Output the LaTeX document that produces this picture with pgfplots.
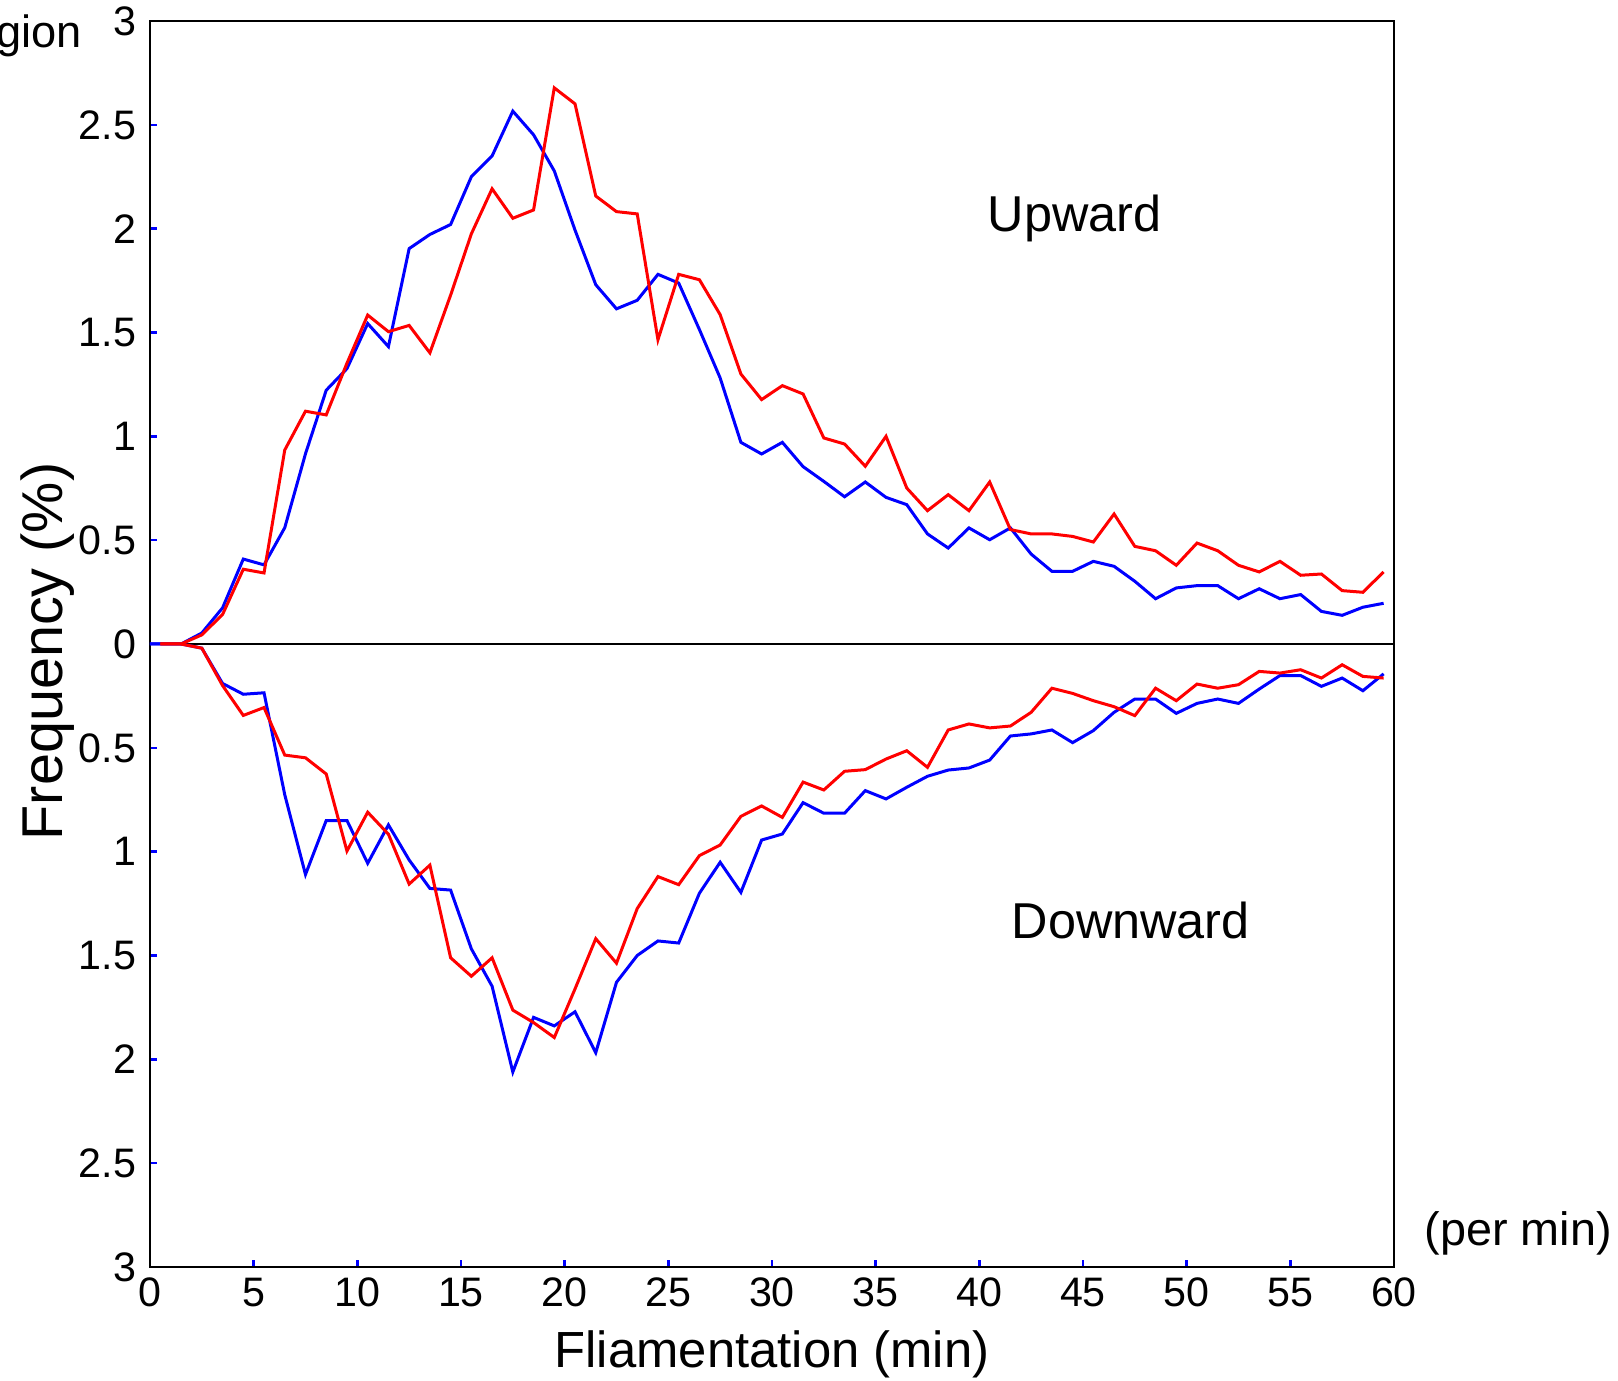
\documentclass[border=0pt]{standalone}
\usepackage{fontspec}
\setmainfont{Liberation Sans}
\usepackage{pgfplots}
\pgfplotsset{compat=1.18}

\begin{document}
\begin{tikzpicture}
\begin{axis}[
    scale only axis,
    width=311pt, height=311.5pt,
    xmin=0, xmax=60,
    ymin=-3, ymax=3,
    xtick={0,5,...,60},
    ytick={-3,-2.5,...,3},
    yticklabel={\pgfmathparse{abs(\tick)}\pgfmathprintnumber{\pgfmathresult}},
    /pgf/number format/assume math mode=true,
    tick pos=left,
    tick align=inside,
    major tick length=1.75pt,
    tick style={blue, line width=0.6pt},
    axis line style={line width=0.7pt},
    ticklabel style={font=\fontsize{10.3}{12}\selectfont},
    xticklabel style={inner sep=0pt, yshift=-2.5pt},
    yticklabel style={inner sep=0pt, xshift=-3.25pt},
    xlabel={Fliamentation (min)},
    ylabel={Frequency (\%)},
    xlabel style={font=\fontsize{12.7}{15}\selectfont, at={(axis description cs:0.5,-0.0803)}, anchor=base},
    ylabel style={font=\fontsize{14.4}{17}\selectfont, at={(axis description cs:-0.0707,0.494)}, anchor=base},
    clip=false,
]
% zero line
\addplot[black, line width=0.7pt] coordinates {(0,0) (60,0)};

% upward, blue
\addplot[blue, line width=0.75pt] coordinates {
(0,0)(0.5,0)(1.5,0)(2.5,0.053)(3.5,0.174)(4.5,0.409)(5.5,0.381)(6.5,0.56)(7.5,0.916)(8.5,1.222)(9.5,1.326)(10.5,1.543)(11.5,1.432)(12.5,1.904)(13.5,1.972)(14.5,2.02)(15.5,2.25)(16.5,2.35)(17.5,2.566)(18.5,2.452)(19.5,2.278)(20.5,1.993)(21.5,1.73)(22.5,1.614)(23.5,1.655)(24.5,1.78)(25.5,1.738)(26.5,1.514)(27.5,1.281)(28.5,0.971)(29.5,0.915)(30.5,0.971)(31.5,0.854)(32.5,0.783)(33.5,0.709)(34.5,0.78)(35.5,0.706)(36.5,0.671)(37.5,0.53)(38.5,0.462)(39.5,0.559)(40.5,0.502)(41.5,0.559)(42.5,0.433)(43.5,0.35)(44.5,0.35)(45.5,0.398)(46.5,0.374)(47.5,0.302)(48.5,0.218)(49.5,0.27)(50.5,0.281)(51.5,0.281)(52.5,0.218)(53.5,0.266)(54.5,0.218)(55.5,0.238)(56.5,0.157)(57.5,0.138)(58.5,0.177)(59.5,0.196)
};
% downward, blue
\addplot[blue, line width=0.75pt] coordinates {
(0,0)(0.5,0)(1.5,0)(2.5,-0.02)(3.5,-0.19)(4.5,-0.242)(5.5,-0.235)(6.5,-0.726)(7.5,-1.11)(8.5,-0.85)(9.5,-0.85)(10.5,-1.056)(11.5,-0.871)(12.5,-1.04)(13.5,-1.177)(14.5,-1.185)(15.5,-1.468)(16.5,-1.648)(17.5,-2.061)(18.5,-1.798)(19.5,-1.839)(20.5,-1.771)(21.5,-1.968)(22.5,-1.629)(23.5,-1.5)(24.5,-1.43)(25.5,-1.44)(26.5,-1.2)(27.5,-1.051)(28.5,-1.196)(29.5,-0.944)(30.5,-0.915)(31.5,-0.764)(32.5,-0.815)(33.5,-0.815)(34.5,-0.706)(35.5,-0.746)(36.5,-0.69)(37.5,-0.637)(38.5,-0.607)(39.5,-0.597)(40.5,-0.559)(41.5,-0.443)(42.5,-0.433)(43.5,-0.414)(44.5,-0.475)(45.5,-0.417)(46.5,-0.329)(47.5,-0.265)(48.5,-0.265)(49.5,-0.334)(50.5,-0.286)(51.5,-0.265)(52.5,-0.286)(53.5,-0.217)(54.5,-0.152)(55.5,-0.152)(56.5,-0.204)(57.5,-0.164)(58.5,-0.225)(59.5,-0.144)
};
% upward, red
\addplot[red, line width=0.75pt] coordinates {
(0.5,0)(1.5,0)(2.5,0.044)(3.5,0.142)(4.5,0.36)(5.5,0.342)(6.5,0.934)(7.5,1.121)(8.5,1.103)(9.5,1.352)(10.5,1.584)(11.5,1.504)(12.5,1.534)(13.5,1.402)(14.5,1.68)(15.5,1.975)(16.5,2.192)(17.5,2.05)(18.5,2.09)(19.5,2.678)(20.5,2.601)(21.5,2.157)(22.5,2.082)(23.5,2.071)(24.5,1.465)(25.5,1.78)(26.5,1.754)(27.5,1.586)(28.5,1.30)(29.5,1.177)(30.5,1.244)(31.5,1.204)(32.5,0.992)(33.5,0.963)(34.5,0.856)(35.5,1.0)(36.5,0.751)(37.5,0.642)(38.5,0.719)(39.5,0.642)(40.5,0.78)(41.5,0.551)(42.5,0.53)(43.5,0.53)(44.5,0.518)(45.5,0.491)(46.5,0.626)(47.5,0.47)(48.5,0.449)(49.5,0.379)(50.5,0.486)(51.5,0.449)(52.5,0.379)(53.5,0.347)(54.5,0.398)(55.5,0.331)(56.5,0.337)(57.5,0.257)(58.5,0.249)(59.5,0.347)
};
% downward, red
\addplot[red, line width=0.75pt] coordinates {
(0.5,0)(1.5,0)(2.5,-0.02)(3.5,-0.2)(4.5,-0.344)(5.5,-0.306)(6.5,-0.535)(7.5,-0.548)(8.5,-0.626)(9.5,-0.997)(10.5,-0.81)(11.5,-0.916)(12.5,-1.156)(13.5,-1.065)(14.5,-1.511)(15.5,-1.6)(16.5,-1.511)(17.5,-1.763)(18.5,-1.823)(19.5,-1.895)(20.5,-1.661)(21.5,-1.419)(22.5,-1.537)(23.5,-1.274)(24.5,-1.12)(25.5,-1.159)(26.5,-1.019)(27.5,-0.968)(28.5,-0.83)(29.5,-0.78)(30.5,-0.835)(31.5,-0.665)(32.5,-0.703)(33.5,-0.613)(34.5,-0.605)(35.5,-0.554)(36.5,-0.514)(37.5,-0.594)(38.5,-0.414)(39.5,-0.385)(40.5,-0.404)(41.5,-0.395)(42.5,-0.329)(43.5,-0.213)(44.5,-0.238)(45.5,-0.273)(46.5,-0.302)(47.5,-0.345)(48.5,-0.213)(49.5,-0.273)(50.5,-0.193)(51.5,-0.213)(52.5,-0.196)(53.5,-0.132)(54.5,-0.14)(55.5,-0.124)(56.5,-0.164)(57.5,-0.1)(58.5,-0.156)(59.5,-0.164)
};

\node[font=\fontsize{12.6}{15}\selectfont] at (axis cs:44.6,2.05) {Upward};
\node[font=\fontsize{12.6}{15}\selectfont] at (axis cs:47.3,-1.33) {Downward};
\node[font=\fontsize{11.7}{14}\selectfont] at (axis cs:66,-2.84) {(per min)};
\node[font=\fontsize{11.3}{14}\selectfont, anchor=base east, inner sep=0pt] at (axis cs:-3.25,2.87) {gion};
\end{axis}
\pgfresetboundingbox
\path[use as bounding box] (-37.5pt,-28.5pt) rectangle (367pt,316.75pt);
\end{tikzpicture}
\end{document}
